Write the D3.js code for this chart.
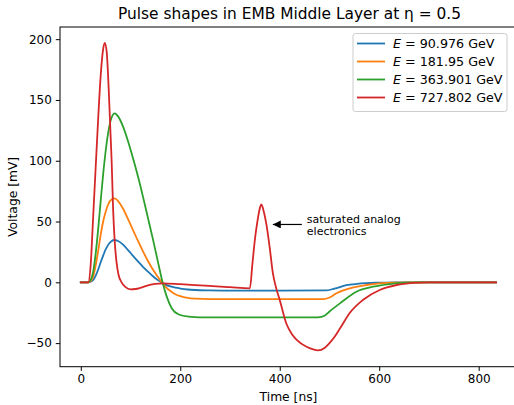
<!DOCTYPE html>
<html>
<head>
<meta charset="utf-8">
<script src="https://cdn.jsdelivr.net/npm/d3@7"></script>
<style>
  html, body { margin: 0; padding: 0; background: #fff; }
  svg { display: block; font-family: "DejaVu Sans", sans-serif; }
</style>
</head>
<body>
<svg id="chart" width="514" height="405"></svg>
<script>
// Pulse samples (time in ns, voltage in mV) for each energy
const blueT = [0, 15, 20, 25, 30, 35, 40, 45, 50, 55, 60, 67, 75, 85, 95, 105, 115, 125, 135, 145, 155, 162, 170, 180, 190, 200, 215, 230, 260, 300, 400, 492, 510, 534, 555, 574, 600, 630, 835];
const blueV = [0, 0, 0.5, 2, 5.5, 10.5, 16.5, 22, 27, 30.8, 33.3, 34.8, 34, 31, 26.5, 21.8, 17.2, 12.8, 8.8, 5, 1.8, 0, -1.9, -3.4, -4.4, -5.1, -5.9, -6.3, -6.6, -6.8, -6.8, -6.7, -5.2, -2.4, -1.3, -0.7, -0.3, 0, 0];

const orangeT = [0, 15, 20, 25, 30, 35, 40, 45, 50, 55, 60, 68, 75, 85, 95, 105, 115, 125, 135, 145, 155, 162, 170, 180, 190, 200, 215, 230, 260, 487, 500, 514, 541, 574, 600, 630, 660, 835];
const orangeV = [0, 0, 1, 5, 14, 26, 39, 50, 58, 64, 67.5, 69, 66.8, 60.5, 52, 43, 34, 25.5, 17.5, 10.5, 4.5, 0.5, -3.5, -7.2, -9.8, -11.4, -12.8, -13.4, -13.8, -13.8, -12.5, -9, -4.9, -2.2, -0.8, -0.2, 0, 0];

const greenT = [0, 15, 20, 25, 30, 35, 40, 45, 50, 55, 60, 68, 75, 85, 95, 105, 115, 125, 135, 145, 155, 165, 173, 183, 197, 217, 240, 477, 490, 500, 521, 554, 588, 621, 655, 680, 835];
const greenV = [0, 0, 2, 9, 24, 44, 67, 89, 108, 123, 133, 139, 136.5, 128, 116, 102, 87, 70.5, 53, 35.5, 17, -1, -12, -21.5, -26.5, -28.3, -28.8, -28.8, -27.5, -24, -17.3, -7.7, -3.6, -1.4, -0.3, 0, 0];

const redT = [0, 15, 20, 25, 30, 35, 40, 45, 48, 52, 56, 60, 62, 65, 68, 72, 76, 82, 90, 100, 110, 120, 135, 150, 165, 200, 250, 300, 340, 345, 350, 355, 360, 363, 368, 373, 380, 386, 393, 400, 413, 425, 434, 454, 466, 477, 490, 500, 510, 521, 541, 567, 601, 635, 668, 700, 835];
const redV = [0, 0, 15, 55, 95, 135, 170, 192, 197, 190, 160, 120, 100, 60, 35, 16, 6, 0, -4, -5.8, -5.5, -4.5, -2.5, -1.2, -0.8, -1.5, -2.8, -4, -4.9, 15, 35, 50, 61, 64, 58, 48, 28, 8, -5, -14.6, -33.7, -43, -47.4, -53, -55, -56, -54, -50, -45, -38, -25, -14.6, -6.3, -2.2, -0.5, 0, 0];

const energies = ["90.976", "181.95", "363.901", "727.802"];
const colors = ["#1f77b4", "#ff7f0e", "#2ca02c", "#d62728"];
const seriesT = [blueT, orangeT, greenT, redT];
const seriesV = [blueV, orangeV, greenV, redV];

const xTicks = [0, 200, 400, 600, 800];
const yTicks = [-50, 0, 50, 100, 150, 200];

const titleText = "Pulse shapes in EMB Middle Layer at \u03b7 = 0.5";
const xLabel = "Time [ns]";
const yLabel = "Voltage [mV]";
const noteLines = ["saturated analog", "electronics"];
const noteTarget = [368, 48];

const svg = d3.select("#chart");
const L = 60, R = 517, T = 27, B = 366.7;

const x = d3.scaleLinear().domain([-41.8, 877]).range([L, R]);
const y = d3.scaleLinear().domain([-69.4, 210]).range([B, T]);

const plot = svg.append("g");
plot.append("clipPath").attr("id", "clip")
  .append("rect").attr("x", L).attr("y", T).attr("width", R - L).attr("height", B - T);

const line = d3.line()
  .x(d => x(d[0])).y(d => y(d[1]))
  .curve(d3.curveMonotoneX);

seriesT.forEach((ts, i) => {
  const pts = ts.map((t, j) => [t, seriesV[i][j]]);
  plot.append("path")
    .attr("clip-path", "url(#clip)")
    .attr("d", line(pts))
    .attr("fill", "none")
    .attr("stroke", colors[i])
    .attr("stroke-width", 1.8)
    .attr("stroke-linejoin", "round")
    .attr("stroke-linecap", "square");
});

// Axes
const xAxis = d3.axisBottom(x).tickValues(xTicks).tickSize(4.2).tickPadding(4)
  .tickFormat(d => d3.format("d")(d));
const yAxis = d3.axisLeft(y).tickValues(yTicks).tickSize(4.2).tickPadding(4)
  .tickFormat(d => (d < 0 ? "\u2212" + Math.abs(d) : String(d)));

const gx = svg.append("g").attr("transform", `translate(0,${B})`).call(xAxis);
const gy = svg.append("g").attr("transform", `translate(${L},0)`).call(yAxis);
[gx, gy].forEach(g => {
  g.select(".domain").remove();
  g.selectAll(".tick line").attr("stroke", "#000").attr("stroke-width", 1);
  g.selectAll(".tick text").attr("font-size", 12).attr("fill", "#000")
    .attr("font-family", "DejaVu Sans, sans-serif");
});

// Frame
svg.append("rect")
  .attr("x", L).attr("y", T).attr("width", R - L).attr("height", B - T)
  .attr("fill", "none").attr("stroke", "#000").attr("stroke-width", 1);

// Title and labels
svg.append("text").attr("x", (L + R) / 2 + 1).attr("y", 19)
  .attr("text-anchor", "middle").attr("font-size", 15.4).text(titleText);
svg.append("text").attr("x", (L + R) / 2).attr("y", 401)
  .attr("text-anchor", "middle").attr("font-size", 12.3).text(xLabel);
svg.append("text")
  .attr("transform", `translate(17,${(T + B) / 2}) rotate(-90)`)
  .attr("text-anchor", "middle").attr("font-size", 12.3).text(yLabel);

// Annotation with arrow
const defs = svg.append("defs");
defs.append("marker").attr("id", "arrowhead")
  .attr("viewBox", "0 0 10 10").attr("refX", 10).attr("refY", 5)
  .attr("markerWidth", 9).attr("markerHeight", 8).attr("markerUnits", "userSpaceOnUse")
  .attr("orient", "auto")
  .append("path").attr("d", "M0,0 L10,5 L0,10 z").attr("fill", "#000");

const tipX = x(noteTarget[0]) + 9, tipY = y(noteTarget[1]) + 0.5;
svg.append("line")
  .attr("x1", tipX + 29).attr("y1", tipY).attr("x2", tipX).attr("y2", tipY)
  .attr("stroke", "#000").attr("stroke-width", 1.2)
  .attr("marker-end", "url(#arrowhead)");
const note = svg.append("text").attr("x", tipX + 34).attr("y", tipY - 1)
  .attr("font-size", 11);
noteLines.forEach((s, i) => {
  note.append("tspan").attr("x", tipX + 34).attr("dy", i === 0 ? 0 : 11.5).text(s);
});

// Legend
const lg = svg.append("g");
lg.append("rect").attr("x", 353).attr("y", 33.5).attr("width", 154).attr("height", 78)
  .attr("rx", 2.5).attr("fill", "#fff").attr("fill-opacity", 0.8)
  .attr("stroke", "#cccccc").attr("stroke-width", 1);
energies.forEach((e, i) => {
  const yy = 43.5 + i * 18;
  lg.append("line").attr("x1", 357).attr("x2", 385).attr("y1", yy).attr("y2", yy)
    .attr("stroke", colors[i]).attr("stroke-width", 1.8);
  const t = lg.append("text").attr("x", 393).attr("y", yy + 4.5).attr("font-size", 12.7);
  t.append("tspan").attr("font-style", "italic").text("E");
  t.append("tspan").text(" = " + e + " GeV");
});
</script>
</body>
</html>
